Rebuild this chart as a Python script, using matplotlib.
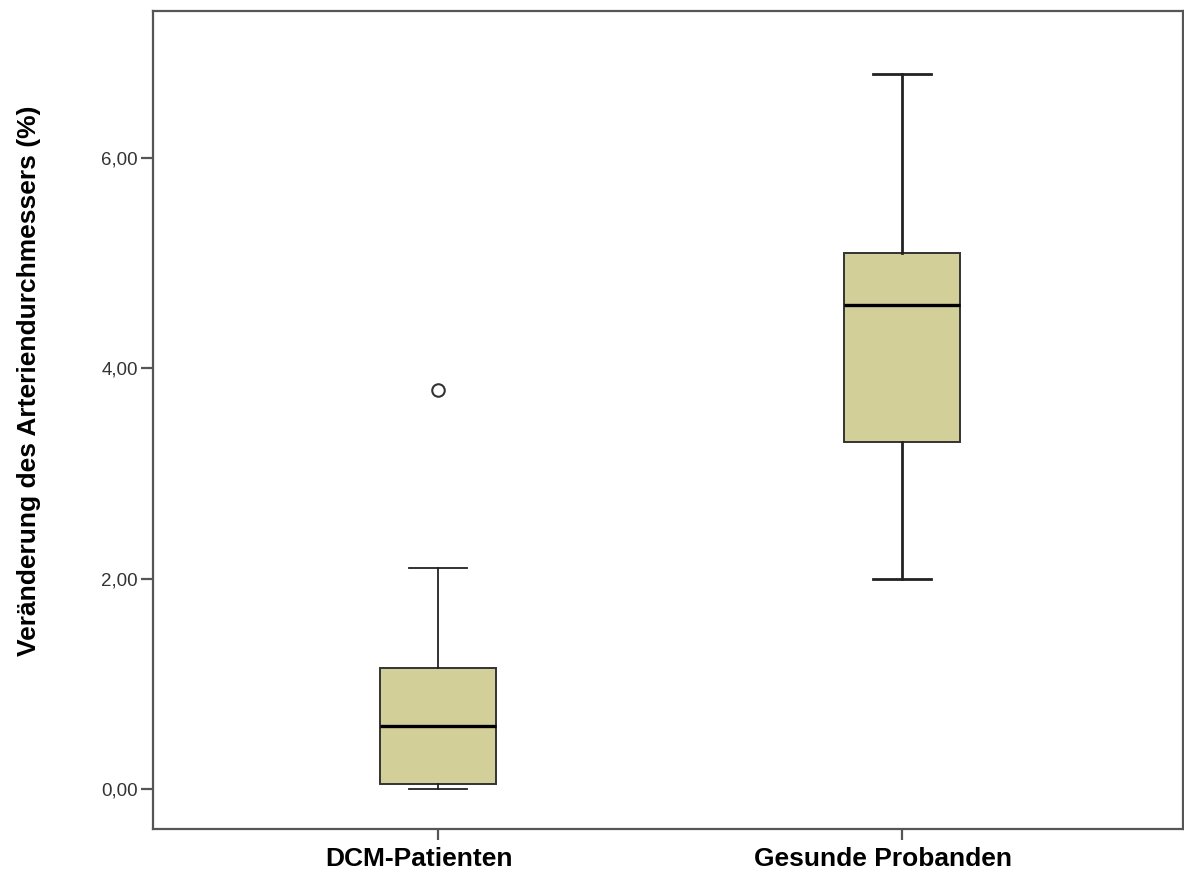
import matplotlib
matplotlib.use("Agg")
import matplotlib.pyplot as plt
import matplotlib.transforms as mtransforms

plt.rcParams['font.family'] = ['Liberation Sans', 'DejaVu Sans']

groups = ['DCM-Patienten', 'Gesunde Probanden']
whisker_low = [0.0, 2.0]
q1 = [0.05, 3.3]
median = [0.6, 4.6]
q3 = [1.15, 5.1]
whisker_high = [2.1, 6.8]
outliers = [[3.8], []]

y_ticks = [0, 2, 4, 6]
y_tick_labels = ['0,00', '2,00', '4,00', '6,00']

fig = plt.figure(figsize=(11.84, 8.75), dpi=100)
ax = fig.add_axes([0.1292, 0.0526, 0.8700, 0.9348])

box_color = '#d3cf98'
edge = '#333333'

stats = []
for i in range(len(groups)):
    stats.append(dict(med=median[i], q1=q1[i], q3=q3[i],
                      whislo=whisker_low[i], whishi=whisker_high[i],
                      fliers=outliers[i], label=groups[i]))

# DCM box has thinner whiskers than the healthy group in the original
whisk_lw = [1.3, 2.0]
for i in range(len(groups)):
    ax.bxp([stats[i]], positions=[i + 1], widths=0.25, patch_artist=True,
           boxprops=dict(facecolor=box_color, edgecolor=edge, linewidth=1.4),
           medianprops=dict(color='black', linewidth=2.4),
           whiskerprops=dict(color='#222222', linewidth=whisk_lw[i]),
           capprops=dict(color='#222222', linewidth=whisk_lw[i]),
           capwidths=0.125,
           flierprops=dict(marker='o', markersize=9, markerfacecolor='white',
                           markeredgecolor='#333333', markeredgewidth=1.5))

ax.set_xlim(0.387, 2.605)
ax.set_ylim(-0.38, 7.40)
ax.set_xticks([1, 2])
ax.set_xticklabels(groups, fontsize=19, fontweight='bold', color='black')
ax.set_yticks(y_ticks)
ax.set_yticklabels(y_tick_labels, fontsize=13.5, color='#333333')

for spine in ax.spines.values():
    spine.set_color('#555555')
    spine.set_linewidth(1.6)

ax.tick_params(axis='x', length=8, width=1.6, color='#555555', pad=5)
ax.tick_params(axis='y', length=9, width=1.6, color='#555555', pad=2)

# labels sit a bit left of the tick marks
offset = mtransforms.ScaledTranslation(-0.19, 0, fig.dpi_scale_trans)
for lbl in ax.get_xticklabels():
    lbl.set_transform(lbl.get_transform() + offset)

ax.set_ylabel('Veränderung des Arteriendurchmessers (%)', fontsize=19,
              fontweight='bold')
ax.yaxis.set_label_coords(-0.109, 0.548)

fig.savefig('out.png', dpi=100)
